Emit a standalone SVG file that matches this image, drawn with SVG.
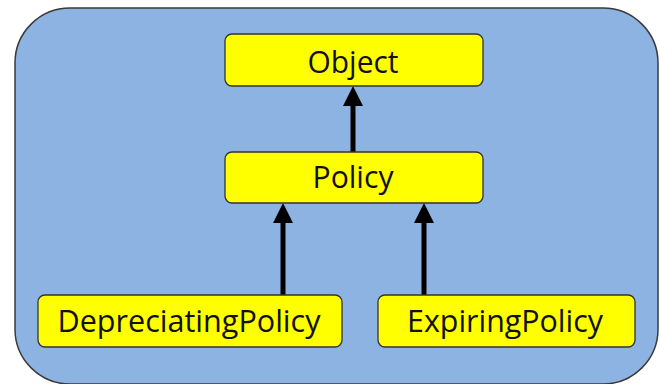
<svg xmlns="http://www.w3.org/2000/svg" width="660" height="384" viewBox="0 0 660 384">
<style>
.bg{fill:#8DB3E2;stroke:#3a3a3a;stroke-width:1.5}
.box{fill:#FFFF00;stroke:#333;stroke-width:1.3}
.lbl{font-family:"Open Sans","Liberation Sans",Arial,sans-serif;font-size:31px;fill:#111;text-anchor:middle}
.edge{stroke:#000;stroke-width:5;fill:none;marker-end:url(#ah)}
</style>
<defs>
<marker id="ah" markerWidth="4" markerHeight="4" refX="1" refY="2" orient="auto" markerUnits="strokeWidth" viewBox="0 0 4 4">
<path d="M0,0 L4,2 L0,4 Z" fill="#000"/>
</marker>
</defs>
<rect class="bg" x="15" y="8" width="643" height="376" rx="55" ry="55"/>
<g id="connectors">
<line class="edge" x1="353" y1="152" x2="353" y2="101"/>
<line class="edge" x1="283" y1="295" x2="283" y2="218"/>
<line class="edge" x1="424" y1="295" x2="424" y2="218"/>
</g>
<g id="object">
<rect class="box" x="225" y="34" width="258" height="52" rx="7"/>
<text class="lbl" x="353" y="73" textLength="91" lengthAdjust="spacingAndGlyphs">Object</text>
</g>
<g id="policy">
<rect class="box" x="225" y="152" width="258" height="51" rx="7"/>
<text class="lbl" x="353" y="188" textLength="81" lengthAdjust="spacingAndGlyphs">Policy</text>
</g>
<g id="depreciating">
<rect class="box" x="38" y="295" width="304" height="52" rx="7"/>
<text class="lbl" x="189" y="332" textLength="263" lengthAdjust="spacingAndGlyphs">DepreciatingPolicy</text>
</g>
<g id="expiring">
<rect class="box" x="378" y="295" width="257" height="52" rx="7"/>
<text class="lbl" x="505" y="332" textLength="196" lengthAdjust="spacingAndGlyphs">ExpiringPolicy</text>
</g>
</svg>
